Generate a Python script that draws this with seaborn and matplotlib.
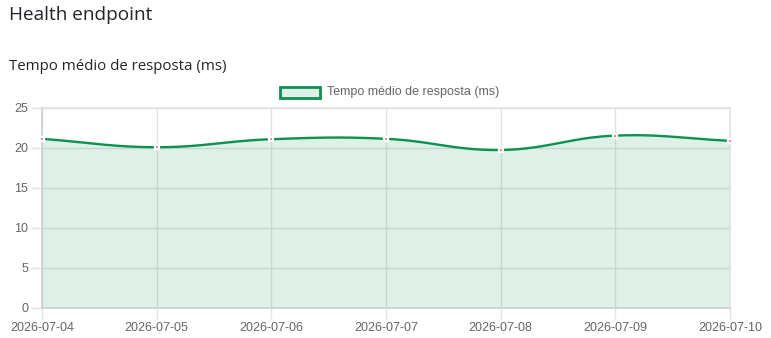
import matplotlib
matplotlib.use("Agg")
import matplotlib.pyplot as plt
import numpy as np
import pandas as pd
import seaborn as sns
from matplotlib.patches import Rectangle

# values
dates = ["2026-07-04", "2026-07-05", "2026-07-06", "2026-07-07",
         "2026-07-08", "2026-07-09", "2026-07-10"]
tempo_ms = [21.15, 20.1, 21.1, 21.15, 19.75, 21.55, 20.9]
y_ticks = [0, 5, 10, 15, 20, 25]

LINE = "#0b9150"
FILL = "#e0f0e7"
GRID = "#e2e2e2"
TICK_TXT = "#666666"


def spline(xs, ys, tension=0.4, sx=114.7, sy=8.0, n=40):
    """Chart.js-like cubic bezier smoothing, computed in pixel space."""
    px = np.asarray(xs, float) * sx
    py = np.asarray(ys, float) * sy
    k = len(px)
    cps = []
    for i in range(k):
        p0 = (px[max(i - 1, 0)], py[max(i - 1, 0)])
        p1 = (px[i], py[i])
        p2 = (px[min(i + 1, k - 1)], py[min(i + 1, k - 1)])
        d01 = np.hypot(p1[0] - p0[0], p1[1] - p0[1])
        d12 = np.hypot(p2[0] - p1[0], p2[1] - p1[1])
        tot = d01 + d12
        s01 = d01 / tot if tot else 0
        s12 = d12 / tot if tot else 0
        fa, fb = tension * s01, tension * s12
        prev = (p1[0] - fa * (p2[0] - p0[0]), p1[1] - fa * (p2[1] - p0[1]))
        nxt = (p1[0] + fb * (p2[0] - p0[0]), p1[1] + fb * (p2[1] - p0[1]))
        cps.append((prev, nxt))
    out_x, out_y = [], []
    t = np.linspace(0, 1, n)
    for i in range(k - 1):
        a = np.array([px[i], py[i]])
        b = np.array(cps[i][1])
        c = np.array(cps[i + 1][0])
        d = np.array([px[i + 1], py[i + 1]])
        pts = ((1 - t)[:, None] ** 3 * a + 3 * ((1 - t) ** 2 * t)[:, None] * b
               + 3 * ((1 - t) * t ** 2)[:, None] * c + (t ** 3)[:, None] * d)
        out_x.extend(pts[:, 0] / sx)
        out_y.extend(pts[:, 1] / sy)
    return np.array(out_x), np.array(out_y)


sns.set_theme(style="white")
plt.rcParams["font.family"] = ["Liberation Sans", "DejaVu Sans"]

fig = plt.figure(figsize=(7.71, 3.38), dpi=100)
W, H = 771, 338
ax = fig.add_axes([42 / W, (H - 308) / H, (730 - 42) / W, 200 / H])

idx = np.arange(len(dates))
sx, sy = spline(idx, tempo_ms)
smooth = pd.DataFrame({"x": sx, "y": sy})
points = pd.DataFrame({"x": idx, "y": tempo_ms})

# semi-transparent fill so the grid shows through, as in the original
ax.fill_between(sx, 0, sy, color=LINE, alpha=0.13, lw=0, zorder=2)
sns.lineplot(data=smooth, x="x", y="y", ax=ax, color=LINE, lw=1.7,
             sort=False, zorder=3, estimator=None)
sns.scatterplot(data=points, x="x", y="y", ax=ax, color="#ff6384",
                s=5, marker="s", edgecolor="white", linewidth=1.6,
                zorder=4, clip_on=False)

ax.set_xlim(0, len(dates) - 1)
ax.set_ylim(0, 25)
ax.set_xticks(idx)
ax.set_xticklabels(dates)
ax.set_yticks(y_ticks)
ax.set_xlabel("")
ax.set_ylabel("")
ax.grid(True, color=GRID, lw=1, zorder=1)
ax.set_axisbelow(True)
for side in ["top", "right"]:
    ax.spines[side].set_color(GRID)
for side in ["left", "bottom"]:
    ax.spines[side].set_color("#cfcfcf")
ax.tick_params(axis="both", length=8, width=1, color=GRID,
               labelsize=9, labelcolor=TICK_TXT, pad=2, left=True, bottom=True)

# legend drawn like Chart.js: boxed swatch + label, centered above plot
fig.patches.append(Rectangle((280 / W, (H - 98) / H), 40 / W, 11 / H,
                             transform=fig.transFigure, facecolor=FILL,
                             edgecolor=LINE, lw=2, figure=fig))
fig.text(327 / W, (H - 92.5) / H, "Tempo médio de resposta (ms)",
         fontsize=9, color=TICK_TXT, va="center", ha="left")

fig.text(9 / W, (H - 15) / H, "Health endpoint", fontsize=13.7,
         color="#212529", va="center", ha="left", family=["Open Sans", "DejaVu Sans"])
fig.text(9 / W, (H - 67) / H, "Tempo médio de resposta (ms)", fontsize=10.8,
         color="#212529", va="center", ha="left", family=["Open Sans", "DejaVu Sans"])

fig.savefig("out.png", dpi=100)
